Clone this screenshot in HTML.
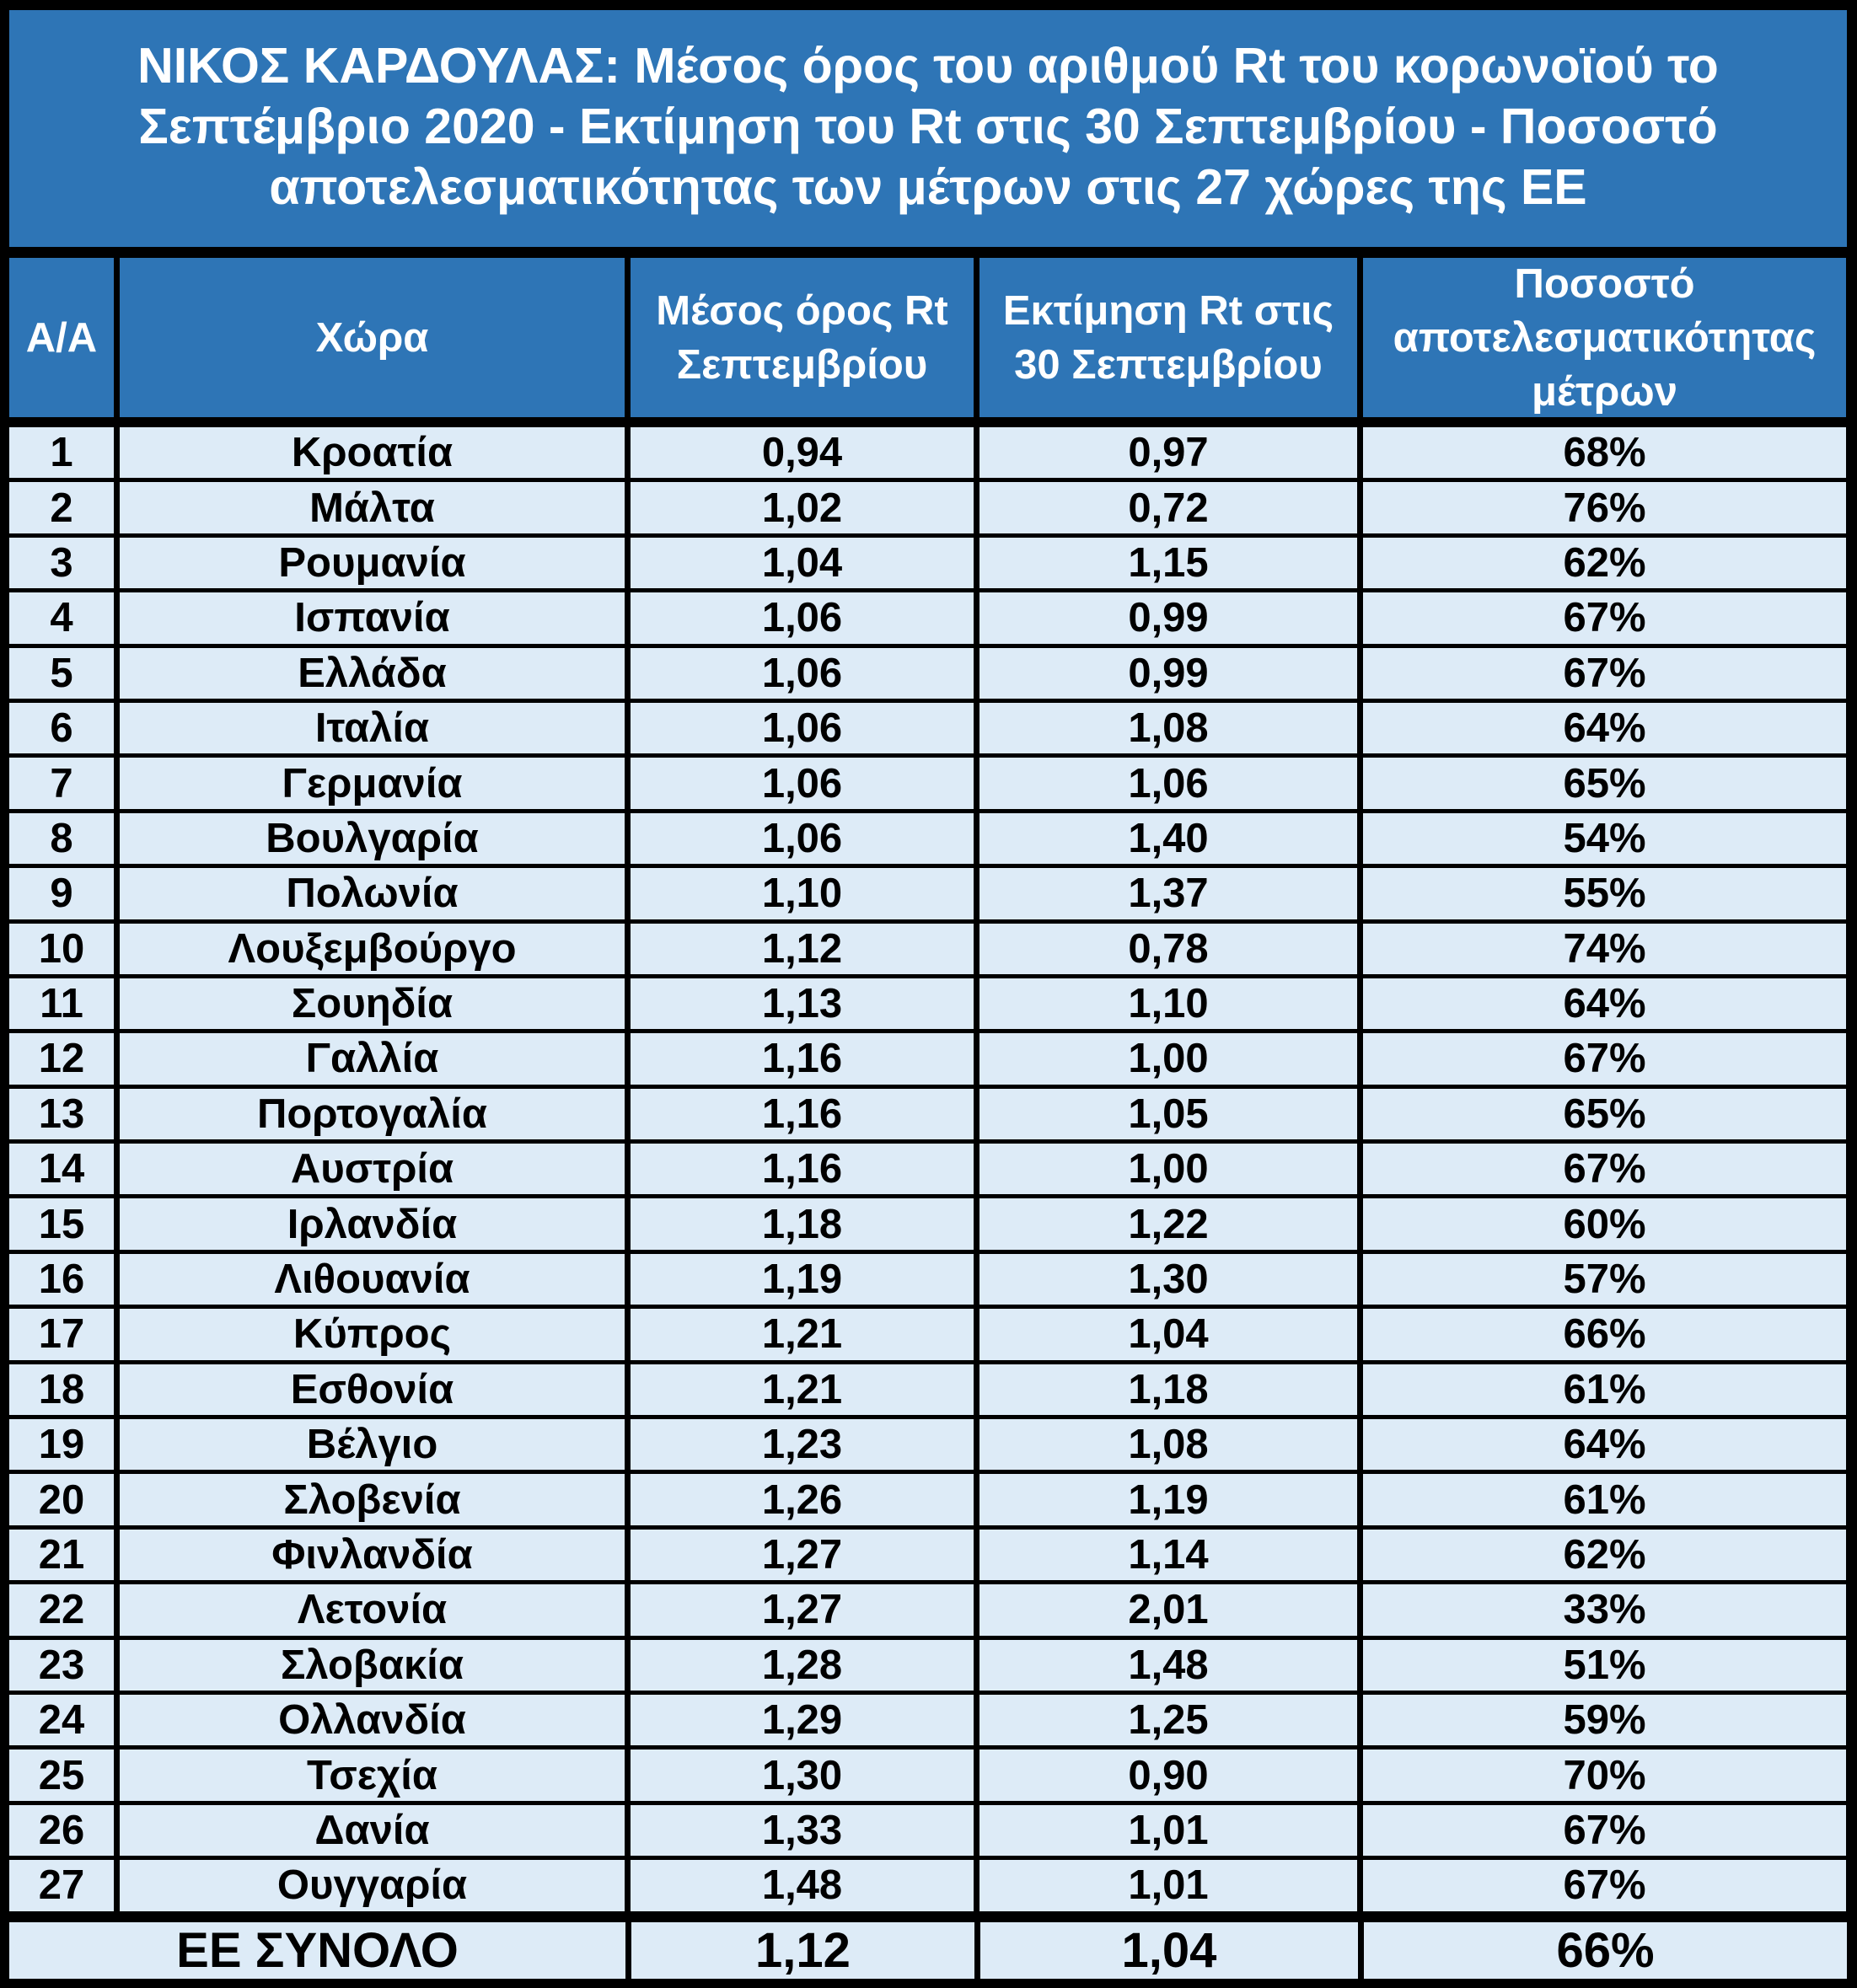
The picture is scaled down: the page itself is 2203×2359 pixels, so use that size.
<!DOCTYPE html>
<html><head><meta charset="utf-8"><style>
*{margin:0;padding:0;box-sizing:border-box}
body{width:2203px;height:2359px;background:#000;position:relative;overflow:hidden;font-family:"Liberation Sans",sans-serif;font-weight:bold}
.title{position:absolute;left:11px;top:12px;width:2180px;height:281px;background:#2E75B6;color:#fff;font-size:59px;line-height:72px;text-align:center;padding-top:30px;white-space:nowrap}
.grid{position:absolute;left:11px;display:grid;grid-template-columns:124px 599px 407px 448px 573px;column-gap:7px}
.hdr{top:306px;height:189px;grid-template-rows:189px}
.hdr div{background:#2E75B6;color:#fff;font-size:49px;line-height:64px;display:flex;align-items:center;justify-content:center;text-align:center;white-space:nowrap}
.body{top:507px;grid-template-rows:repeat(27,60.4px);row-gap:5px}
.body div{background:#DDEBF7;color:#000;font-size:49px;display:flex;align-items:center;justify-content:center}
.tot{position:absolute;top:2281px;left:11px;height:66px;display:grid;grid-template-columns:731px 407px 448px 573px;column-gap:7px}
.tot div{background:#DDEBF7;font-size:58px;display:flex;align-items:center;justify-content:center}
</style></head><body>
<div class="title">ΝΙΚΟΣ ΚΑΡΔΟΥΛΑΣ: Μέσος όρος του αριθμού Rt του κορωνοϊού το<br>Σεπτέμβριο 2020 - Εκτίμηση του Rt στις 30 Σεπτεμβρίου - Ποσοστό<br>αποτελεσματικότητας των μέτρων στις 27 χώρες της ΕΕ</div>
<div class="grid hdr"><div>Α/Α</div><div>Χώρα</div><div>Μέσος όρος Rt<br>Σεπτεμβρίου</div><div>Εκτίμηση Rt στις<br>30 Σεπτεμβρίου</div><div>Ποσοστό<br>αποτελεσματικότητας<br>μέτρων</div></div>
<div class="grid body">
<div>1</div><div>Κροατία</div><div>0,94</div><div>0,97</div><div>68%</div>
<div>2</div><div>Μάλτα</div><div>1,02</div><div>0,72</div><div>76%</div>
<div>3</div><div>Ρουμανία</div><div>1,04</div><div>1,15</div><div>62%</div>
<div>4</div><div>Ισπανία</div><div>1,06</div><div>0,99</div><div>67%</div>
<div>5</div><div>Ελλάδα</div><div>1,06</div><div>0,99</div><div>67%</div>
<div>6</div><div>Ιταλία</div><div>1,06</div><div>1,08</div><div>64%</div>
<div>7</div><div>Γερμανία</div><div>1,06</div><div>1,06</div><div>65%</div>
<div>8</div><div>Βουλγαρία</div><div>1,06</div><div>1,40</div><div>54%</div>
<div>9</div><div>Πολωνία</div><div>1,10</div><div>1,37</div><div>55%</div>
<div>10</div><div>Λουξεμβούργο</div><div>1,12</div><div>0,78</div><div>74%</div>
<div>11</div><div>Σουηδία</div><div>1,13</div><div>1,10</div><div>64%</div>
<div>12</div><div>Γαλλία</div><div>1,16</div><div>1,00</div><div>67%</div>
<div>13</div><div>Πορτογαλία</div><div>1,16</div><div>1,05</div><div>65%</div>
<div>14</div><div>Αυστρία</div><div>1,16</div><div>1,00</div><div>67%</div>
<div>15</div><div>Ιρλανδία</div><div>1,18</div><div>1,22</div><div>60%</div>
<div>16</div><div>Λιθουανία</div><div>1,19</div><div>1,30</div><div>57%</div>
<div>17</div><div>Κύπρος</div><div>1,21</div><div>1,04</div><div>66%</div>
<div>18</div><div>Εσθονία</div><div>1,21</div><div>1,18</div><div>61%</div>
<div>19</div><div>Βέλγιο</div><div>1,23</div><div>1,08</div><div>64%</div>
<div>20</div><div>Σλοβενία</div><div>1,26</div><div>1,19</div><div>61%</div>
<div>21</div><div>Φινλανδία</div><div>1,27</div><div>1,14</div><div>62%</div>
<div>22</div><div>Λετονία</div><div>1,27</div><div>2,01</div><div>33%</div>
<div>23</div><div>Σλοβακία</div><div>1,28</div><div>1,48</div><div>51%</div>
<div>24</div><div>Ολλανδία</div><div>1,29</div><div>1,25</div><div>59%</div>
<div>25</div><div>Τσεχία</div><div>1,30</div><div>0,90</div><div>70%</div>
<div>26</div><div>Δανία</div><div>1,33</div><div>1,01</div><div>67%</div>
<div>27</div><div>Ουγγαρία</div><div>1,48</div><div>1,01</div><div>67%</div>
</div>
<div class="tot"><div>ΕΕ ΣΥΝΟΛΟ</div><div>1,12</div><div>1,04</div><div>66%</div></div>
</body></html>
